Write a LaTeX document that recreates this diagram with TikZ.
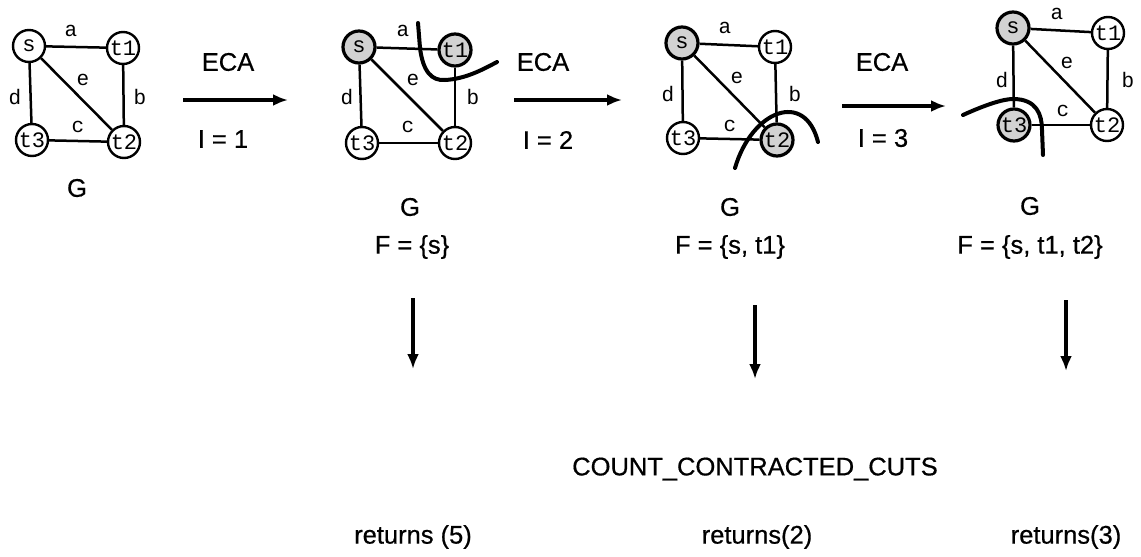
\documentclass[tikz,border=0pt]{standalone}
\usepackage{fontspec}
\setmainfont{Liberation Sans}[FakeBold=0.6]
\setmonofont{Liberation Mono}
\usetikzlibrary{arrows.meta}
\begin{document}
\begin{tikzpicture}[x=1pt,y=-1pt,
  vtx/.style={circle,draw,line width=2.4pt,minimum size=32pt,inner sep=0pt,font=\fontsize{22}{22}\ttfamily,fill=white},
  hit/.style={vtx,fill=gray!35,line width=3.2pt},
  edg/.style={line width=2.5pt},
  elbl/.style={inner sep=0pt,font=\fontsize{21}{21}\ttfamily},
  txt/.style={inner sep=0pt,font=\fontsize{25.5}{30}\selectfont},
  cutline/.style={line width=4pt,line cap=round},
  harrow/.style={line width=3.3pt,-{Latex[length=15pt,width=12pt]}},
  varrow/.style={line width=3.1pt,-{Latex[length=15pt,width=12pt]}}]
\useasboundingbox (0,0) rectangle (1141,557);
% ---------- graph 1 ----------
\node[vtx] (s1) at (29,46) {s};
\node[vtx] (ta1) at (123,48) {t1};
\node[vtx] (tc1) at (32,140) {t3};
\node[vtx] (tb1) at (124,142) {t2};
\draw[edg] (s1) -- (ta1);
\draw[edg] (ta1) -- (tb1);
\draw[edg] (tc1) -- (tb1);
\draw[edg] (s1) -- (tc1);
\draw[edg] (s1) -- (tb1);
\node[elbl] (a1) at (71,31) {a};
\node[elbl] (e1) at (83,80) {e};
\node[elbl] (d1) at (15,97) {d};
\node[elbl] (b1) at (140,97) {b};
\node[elbl] (c1) at (78,127) {c};
\node[txt] (g1) at (77,188) {G};
% ---------- arrow 1 ----------
\coordinate (h1a) at (183,100);
\coordinate (h1b) at (288,100);
\draw[harrow] (h1a) -- (h1b);
\node[txt] (eca1) at (228,62) {ECA};
\node[txt] (i1) at (223,139) {I = 1};
% ---------- graph 2 ----------
\node[hit] (s2) at (359,47) {s};
\node[hit] (ta2) at (455,50) {t1};
\node[vtx] (tc2) at (362,143) {t3};
\node[vtx] (tb2) at (455,143) {t2};
\draw[edg] (s2) -- (ta2);
\draw[edg] (ta2) -- (tb2);
\draw[edg] (tc2) -- (tb2);
\draw[edg] (s2) -- (tc2);
\draw[edg] (s2) -- (tb2);
\node[elbl] (a2) at (403,31) {a};
\node[elbl] (e2) at (413,80) {e};
\node[elbl] (d2) at (347,97) {d};
\node[elbl] (b2) at (473,97) {b};
\node[elbl] (c2) at (408,127) {c};
\draw[cutline] (418,23) -- (420,48) .. controls (423,72) and (432,81) .. (445,80) .. controls (465,79) and (482,70) .. (497,62);
\node[txt] (g2) at (410,207) {G};
\node[txt] (f2) at (412,247) {F = \{s\}};
% ---------- arrow 2 ----------
\coordinate (h2a) at (514,100);
\coordinate (h2b) at (622,100);
\draw[harrow] (h2a) -- (h2b);
\node[txt] (eca2) at (543,62) {ECA};
\node[txt] (i2) at (548,140) {I = 2};
% ---------- graph 3 ----------
\node[hit] (s3) at (682,43) {s};
\node[vtx] (ta3) at (775,47) {t1};
\node[vtx] (tc3) at (683,138) {t3};
\node[hit] (tb3) at (777,140) {t2};
\draw[edg] (s3) -- (ta3);
\draw[edg] (ta3) -- (tb3);
\draw[edg] (tc3) -- (tb3);
\draw[edg] (s3) -- (tc3);
\draw[edg] (s3) -- (tb3);
\node[elbl] (a3) at (725,28) {a};
\node[elbl] (e3) at (737,78) {e};
\node[elbl] (d3) at (668,94) {d};
\node[elbl] (b3) at (795,94) {b};
\node[elbl] (c3) at (730,126) {c};
\draw[cutline] (735,168) .. controls (752,110) and (805,90) .. (818,142);
\node[txt] (g3) at (730,207) {G};
\node[txt] (f3) at (730,247) {F = \{s, t1\}};
% ---------- arrow 3 ----------
\coordinate (h3a) at (842,106);
\coordinate (h3b) at (946,106);
\draw[harrow] (h3a) -- (h3b);
\node[txt] (eca3) at (882,62) {ECA};
\node[txt] (i3) at (883,138) {I = 3};
% ---------- graph 4 ----------
\node[hit] (s4) at (1013,28) {s};
\node[vtx] (ta4) at (1108,33) {t1};
\node[hit] (tc4) at (1014,125) {t3};
\node[vtx] (tb4) at (1107,125) {t2};
\draw[edg] (s4) -- (ta4);
\draw[edg] (ta4) -- (tb4);
\draw[edg] (tc4) -- (tb4);
\draw[edg] (s4) -- (tc4);
\draw[edg] (s4) -- (tb4);
\node[elbl] (a4) at (1057,14) {a};
\node[elbl] (e4) at (1067,63) {e};
\node[elbl] (d4) at (1002,80) {d};
\node[elbl] (b4) at (1128,80) {b};
\node[elbl] (c4) at (1063,111) {c};
\draw[cutline] (963,115) .. controls (985,105) and (1003,99) .. (1013,99) .. controls (1037,99) and (1042,115) .. (1042,130) -- (1043,155);
\node[txt] (g4) at (1030,206) {G};
\node[txt] (f4) at (1030,247) {F = \{s, t1, t2\}};
% ---------- downward arrows and results ----------
\node[txt] (cc) at (755,469) {COUNT\_CONTRACTED\_CUTS};
\node[txt] (r1) at (413,537) {returns (5)};
\node[txt] (r2) at (757,537) {returns(2)};
\node[txt] (r3) at (1066,537) {returns(3)};
\coordinate (v1a) at (413,298);
\coordinate (v1b) at (413,369);
\coordinate (v2a) at (755,305);
\coordinate (v2b) at (755,379);
\coordinate (v3a) at (1066,300);
\coordinate (v3b) at (1066,371);
\draw[varrow] (v1a) -- (v1b);
\draw[varrow] (v2a) -- (v2b);
\draw[varrow] (v3a) -- (v3b);
\end{tikzpicture}
\end{document}
